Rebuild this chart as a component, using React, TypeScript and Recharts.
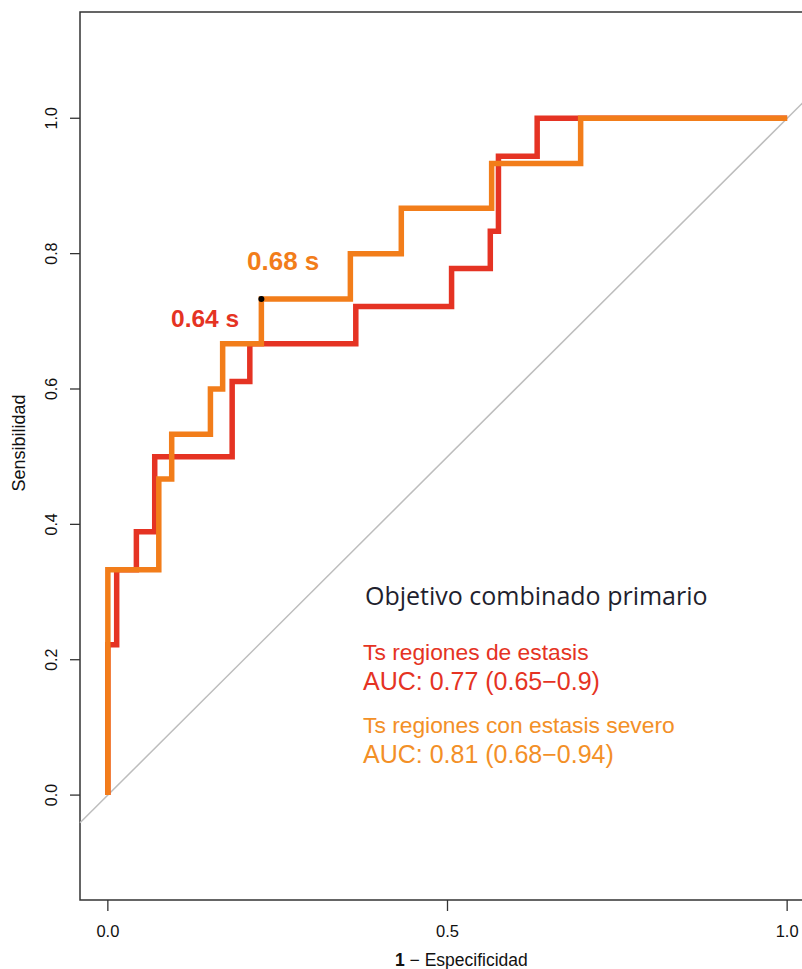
import React from "react"
import { ComposedChart, Line, XAxis, YAxis, ReferenceLine, ReferenceArea, ReferenceDot } from "recharts"

// ROC points (1 - especificidad, sensibilidad)
const redRoc = [
  { fpr: 0, tpr: 0 },
  { fpr: 0, tpr: 0.222 },
  { fpr: 0.013, tpr: 0.333 },
  { fpr: 0.042, tpr: 0.389 },
  { fpr: 0.069, tpr: 0.5 },
  { fpr: 0.183, tpr: 0.611 },
  { fpr: 0.209, tpr: 0.667 },
  { fpr: 0.365, tpr: 0.722 },
  { fpr: 0.506, tpr: 0.778 },
  { fpr: 0.563, tpr: 0.833 },
  { fpr: 0.575, tpr: 0.944 },
  { fpr: 0.632, tpr: 1 },
  { fpr: 1, tpr: 1 },
]

const orangeRoc = [
  { fpr: 0, tpr: 0 },
  { fpr: 0, tpr: 0.333 },
  { fpr: 0.075, tpr: 0.467 },
  { fpr: 0.094, tpr: 0.533 },
  { fpr: 0.151, tpr: 0.6 },
  { fpr: 0.169, tpr: 0.667 },
  { fpr: 0.226, tpr: 0.733 },
  { fpr: 0.357, tpr: 0.8 },
  { fpr: 0.432, tpr: 0.867 },
  { fpr: 0.565, tpr: 0.933 },
  { fpr: 0.696, tpr: 1 },
  { fpr: 1, tpr: 1 },
]

const orangeThreshold = { fpr: 0.226, tpr: 0.733 }

const xTicks = [0, 0.5, 1]
const yTicks = [0, 0.2, 0.4, 0.6, 0.8, 1]
const xDomain = [-0.041, 1.041]
const yDomain = [-0.155, 1.157]

const RED = "#E53323"
const ORANGE = "#F27D1A"
const ORANGE_TEXT = "#F39027"
const FONT = "'Liberation Sans', Arial, sans-serif"

function YTick(props: any) {
  const { x, y, payload } = props
  return (
    <text
      transform={`translate(${x - 13},${y}) rotate(-90)`}
      textAnchor="middle"
      fontSize={16}
      fontFamily={FONT}
      fill="#111"
    >
      {payload.value.toFixed(1)}
    </text>
  )
}

function XTick(props: any) {
  const { x, y, payload } = props
  return (
    <text x={x} y={y + 26} textAnchor="middle" fontSize={16.5} fontFamily={FONT} fill="#111">
      {payload.value.toFixed(1)}
    </text>
  )
}

export default function App() {
  return (
    <div style={{ position: "fixed", left: 0, top: 0, width: 802, height: 969, overflow: "hidden", background: "#fff" }}>
      <ComposedChart width={830} height={969} margin={{ top: 12, right: 15, bottom: 29, left: 20 }}>
        <XAxis
          type="number"
          dataKey="fpr"
          domain={xDomain}
          ticks={xTicks}
          allowDataOverflow
          height={40}
          tickSize={11}
          tickMargin={0}
          axisLine={false}
          tickLine={{ stroke: "#333", strokeWidth: 1.3 }}
          tick={<XTick />}
          interval={0}
        />
        <YAxis
          type="number"
          domain={yDomain}
          ticks={yTicks}
          allowDataOverflow
          width={60}
          tickSize={10}
          tickMargin={0}
          axisLine={false}
          tickLine={{ stroke: "#333", strokeWidth: 1.3 }}
          tick={<YTick />}
          interval={0}
        />
        <ReferenceArea
          x1={xDomain[0]}
          x2={xDomain[1]}
          y1={yDomain[0]}
          y2={yDomain[1]}
          fill="none"
          fillOpacity={0}
          stroke="#333"
          strokeWidth={1.5}
        />
        <ReferenceLine
          segment={[
            { x: xDomain[0], y: xDomain[0] },
            { x: xDomain[1], y: xDomain[1] },
          ]}
          stroke="#BDBDBD"
          strokeWidth={1.5}
        />
        <Line
          data={redRoc}
          dataKey="tpr"
          type="stepAfter"
          stroke={RED}
          strokeWidth={5.5}
          dot={false}
          isAnimationActive={false}
        />
        <Line
          data={orangeRoc}
          dataKey="tpr"
          type="stepAfter"
          stroke={ORANGE}
          strokeWidth={5.5}
          dot={false}
          isAnimationActive={false}
        />
        <ReferenceDot x={orangeThreshold.fpr} y={orangeThreshold.tpr} r={3} fill="#000" stroke="none" />
      </ComposedChart>
      <svg width={802} height={969} style={{ position: "absolute", left: 0, top: 0, pointerEvents: "none" }}>
        <text transform="translate(25,443) rotate(-90)" textAnchor="middle" fontSize={18} fontFamily={FONT} fill="#111">
          Sensibilidad
        </text>
        <text x={395} y={966} fontSize={17.5} fontFamily={FONT} fill="#111">
          <tspan fontWeight="bold">1</tspan> − Especificidad
        </text>
        <text x={247} y={270} fontSize={26} fontWeight="bold" fontFamily={FONT} fill={ORANGE}>
          0.68 s
        </text>
        <text x={171} y={327} fontSize={24.5} fontWeight="bold" fontFamily={FONT} fill={RED}>
          0.64 s
        </text>
        <text x={365} y={605} fontSize={25} fontFamily="'Open Sans', 'Noto Sans', sans-serif" fill="#1f1f2e">
          Objetivo combinado primario
        </text>
        <text x={363} y={660} fontSize={22.8} fontFamily={FONT} fill={RED}>
          Ts regiones de estasis
        </text>
        <text x={363} y={690} fontSize={25} fontFamily={FONT} fill={RED}>
          AUC: 0.77 (0.65−0.9)
        </text>
        <text x={363} y={733} fontSize={22.8} fontFamily={FONT} fill={ORANGE_TEXT}>
          Ts regiones con estasis severo
        </text>
        <text x={363} y={763} fontSize={25} fontFamily={FONT} fill={ORANGE_TEXT}>
          AUC: 0.81 (0.68−0.94)
        </text>
      </svg>
    </div>
  )
}
